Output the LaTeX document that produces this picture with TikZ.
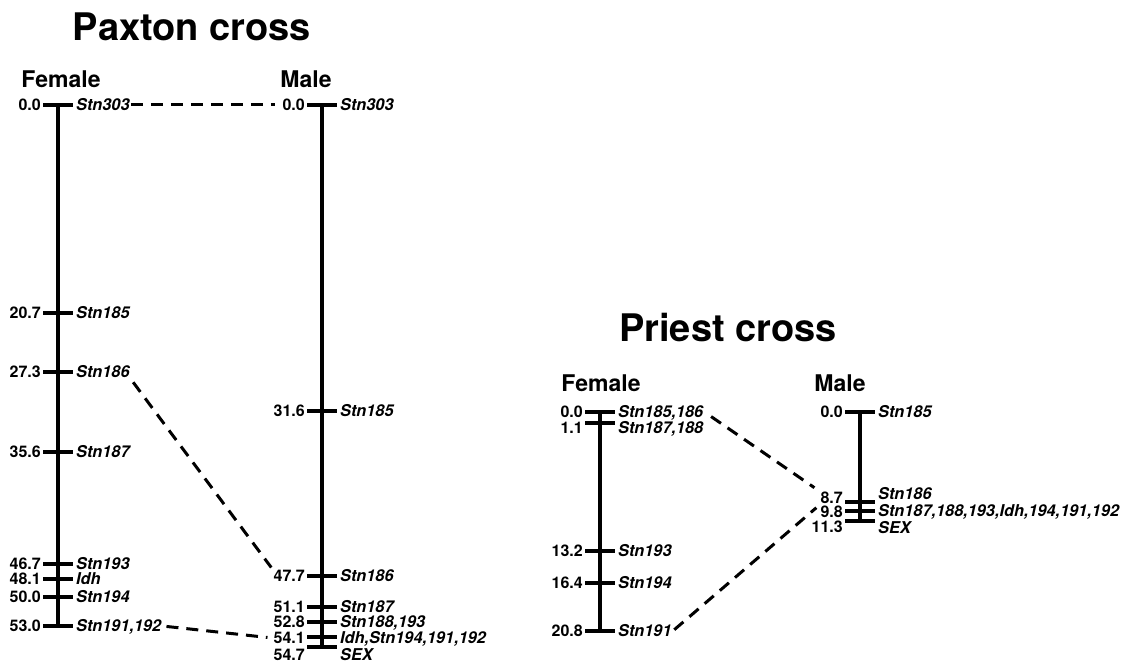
\documentclass[tikz,border=0pt]{standalone}
\usepackage{fontspec}
\setmainfont{TeX Gyre Heros}
\tikzset{
  axisline/.style={line width=3.2pt},
  tickline/.style={line width=3.2pt},
  numlbl/.style={anchor=east, inner sep=1pt, text height=11.4pt, text depth=0pt,
    font=\fontsize{16}{19}\selectfont\bfseries},
  namelbl/.style={anchor=west, inner sep=1pt, text height=11.7pt, text depth=0pt,
    font=\fontsize{16.3}{19}\selectfont\bfseries\itshape},
  dashlink/.style={line width=3pt, dash pattern=on 12pt off 8pt},
  crosstitle/.style={inner sep=0pt, font=\fontsize{38}{44}\selectfont\bfseries},
  sexlbl/.style={inner sep=0pt, font=\fontsize{23}{27}\selectfont\bfseries},
}
% #1 axis x, #2 tick y, #3 number y, #4 name y, #5 number, #6 name, #7 key
\newcommand\mapmark[7]{%
  \draw[tickline] (#1-15,#2) -- (#1+15,#2);
  \node[numlbl] (#7v) at (#1-16,#3) {#5};
  \node[namelbl] (#7n) at (#1+17,#4) {#6};
}
\begin{document}
\begin{tikzpicture}[x=1pt,y=-1pt]
\useasboundingbox (0,0) rectangle (1121,663);

% ---------------- Paxton cross ----------------
\node[crosstitle] (ptitle) at (192,27) {Paxton cross};
\node[sexlbl] (pfem) at (61,79) {Female};
\node[sexlbl] (pmal) at (306,79) {Male};

\coordinate (pftop) at (58,105);
\coordinate (pfbot) at (58,626);
\draw[axisline] (pftop) -- (pfbot);
\mapmark{58}{105}{105}{105}{0.0}{Stn303}{pfa}
\mapmark{58}{313}{313}{313}{20.7}{Stn185}{pfb}
\mapmark{58}{372}{372}{372}{27.3}{Stn186}{pfc}
\mapmark{58}{452}{452}{452}{35.6}{Stn187}{pfd}
\mapmark{58}{564}{564}{564}{46.7}{Stn193}{pfe}
\mapmark{58}{579}{579}{579}{48.1}{Idh}{pff}
\mapmark{58}{597}{597}{597}{50.0}{Stn194}{pfg}
\mapmark{58}{626}{626}{626}{53.0}{Stn191,192}{pfh}

\coordinate (pmtop) at (322,105);
\coordinate (pmbot) at (322,647);
\draw[axisline] (pmtop) -- (pmbot);
\mapmark{322}{105}{105}{105}{0.0}{Stn303}{pma}
\mapmark{322}{411}{411}{411}{31.6}{Stn185}{pmb}
\mapmark{322}{576}{576}{576}{47.7}{Stn186}{pmc}
\mapmark{322}{607}{607}{607}{51.1}{Stn187}{pmd}
\mapmark{322}{622}{622}{622}{52.8}{Stn188,193}{pme}
\mapmark{322}{637}{638}{638}{54.1}{Idh,Stn194,191,192}{pmf}
\mapmark{322}{647}{655}{655}{54.7}{SEX}{pmg}

\draw[dashlink, shorten >=6pt] (pfan.east) -- (pmav.west);
\draw[dashlink, shorten <=4pt, shorten >=2pt] (pfcn.south east) -- (pmcv.north west);
\draw[dashlink, shorten <=4pt, shorten >=5pt] (pfhn.east) -- (pmfv.west);

% ---------------- Priest cross ----------------
\node[crosstitle] (qtitle) at (728,328) {Priest cross};
\node[sexlbl] (qfem) at (601,383) {Female};
\node[sexlbl] (qmal) at (840,383) {Male};

\coordinate (qftop) at (600,412);
\coordinate (qfbot) at (600,631);
\draw[axisline] (qftop) -- (qfbot);
\mapmark{600}{412}{412}{412}{0.0}{Stn185,186}{qfa}
\mapmark{600}{423}{428}{428}{1.1}{Stn187,188}{qfb}
\mapmark{600}{551}{551}{551}{13.2}{Stn193}{qfc}
\mapmark{600}{583}{583}{583}{16.4}{Stn194}{qfd}
\mapmark{600}{631}{631}{631}{20.8}{Stn191}{qfe}

\coordinate (qmtop) at (860,412);
\coordinate (qmbot) at (860,521);
\draw[axisline] (qmtop) -- (qmbot);
\mapmark{860}{412}{412}{412}{0.0}{Stn185}{qma}
\mapmark{860}{502}{498}{494}{8.7}{Stn186}{qmb}
\mapmark{860}{511}{512}{511}{9.8}{Stn187,188,193,Idh,194,191,192}{qmc}
\mapmark{860}{521}{527}{528}{11.3}{SEX}{qmd}

\draw[dashlink, shorten <=8pt, shorten >=6pt] (qfan.east) -- (qmbv.north west);
\draw[dashlink, shorten <=2pt, shorten >=4pt] (qfen.east) -- (qmcv.north west);
\end{tikzpicture}
\end{document}
